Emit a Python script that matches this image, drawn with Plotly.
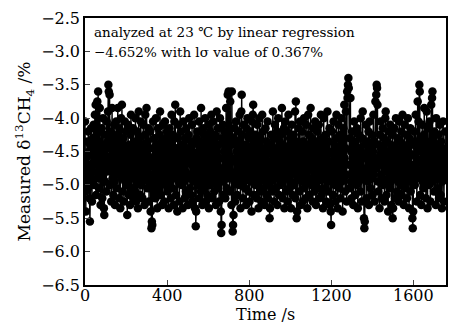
import plotly.graph_objects as go

time_s = list(range(0, 1760, 2))
delta13c = [
    -4.05, -5.10, -5.40, -4.60, -4.85, -4.35, -5.05, -4.70, -4.20, -4.95,
    -4.50, -5.20, -5.55, -4.40, -4.75, -4.15, -4.90, -5.25, -4.55, -4.30,
    -4.80, -4.10, -5.00, -4.45, -3.95, -4.65, -3.80, -5.15, -4.25, -4.70,
    -3.75, -4.90, -3.60, -4.35, -5.05, -4.60, -3.85, -4.20, -5.30, -4.55,
    -4.85, -4.15, -5.20, -4.50, -4.00, -4.75, -5.35, -5.45, -4.40, -4.95,
    -4.25, -4.60, -5.10, -4.05, -4.80, -4.35, -3.90, -3.50, -3.60, -4.70,
    -3.65, -5.00, -4.45, -4.20, -5.25, -4.55, -3.85, -4.90, -4.30, -5.15,
    -4.65, -4.10, -4.95, -5.30, -4.40, -4.75, -4.05, -5.05, -4.50, -4.25,
    -3.85, -4.85, -4.60, -5.20, -4.15, -4.70, -5.35, -4.35, -4.00, -4.90,
    -3.80, -4.55, -5.10, -4.30, -4.80, -5.25, -4.45, -4.05, -4.95, -4.65,
    -4.20, -5.00, -4.50, -5.45, -4.75, -4.10, -4.85, -5.15, -4.40, -4.60,
    -5.30, -4.25, -3.95, -4.70, -5.05, -4.45, -4.90, -4.15, -5.20, -4.55,
    -4.35, -4.80, -5.10, -4.00, -4.65, -5.25, -4.50, -4.20, -4.95, -5.35,
    -4.60, -3.90, -4.85, -4.30, -5.15, -4.70, -4.05, -5.00, -4.45, -4.75,
    -5.20, -4.40, -4.10, -4.90, -4.55, -5.30, -4.25, -3.95, -4.80, -4.65,
    -3.85, -4.50, -5.05, -4.35, -4.95, -4.15, -5.25, -4.60, -4.85, -4.20,
    -5.40, -4.70, -5.65, -5.55, -5.60, -4.45, -4.05, -4.90, -5.10, -4.30,
    -4.75, -4.55, -5.20, -4.00, -4.85, -4.40, -5.35, -4.65, -4.15, -4.95,
    -4.50, -5.05, -4.25, -3.90, -4.80, -5.15, -4.60, -4.35, -5.30, -4.70,
    -4.10, -4.90, -4.45, -5.25, -4.55, -4.05, -4.85, -5.00, -4.30, -4.75,
    -4.20, -5.10, -4.65, -4.40, -5.35, -4.95, -4.15, -4.80, -4.50, -5.20,
    -4.35, -3.95, -4.70, -5.05, -4.60, -4.25, -5.30, -4.85, -4.05, -4.55,
    -3.80, -4.90, -5.15, -4.45, -4.75, -5.40, -4.30, -4.10, -4.95, -4.65,
    -5.25, -4.50, -3.90, -4.85, -4.20, -5.00, -4.60, -4.40, -5.35, -4.70,
    -4.05, -4.95, -4.55, -5.20, -4.30, -4.80, -5.10, -4.15, -4.65, -4.45,
    -4.90, -5.30, -4.25, -4.60, -4.00, -4.85, -5.05, -4.50, -4.35, -5.15,
    -4.70, -4.10, -5.25, -4.40, -4.95, -4.55, -3.95, -4.80, -5.35, -4.65,
    -5.62, -5.40, -4.30, -4.75, -4.20, -5.00, -4.50, -4.90, -4.05, -5.20,
    -4.60, -4.35, -5.10, -3.85, -4.85, -4.45, -5.30, -4.70, -4.15, -4.95,
    -4.25, -5.05, -4.55, -4.00, -4.80, -5.25, -4.40, -4.65, -5.15, -4.30,
    -4.90, -4.10, -5.35, -4.50, -4.75, -4.20, -5.00, -4.60, -3.95, -4.85,
    -5.20, -4.45, -4.05, -4.95, -4.35, -5.10, -4.70, -4.25, -4.80, -5.30,
    -4.55, -3.90, -4.65, -5.05, -4.15, -4.90, -4.40, -5.25, -4.60, -4.00,
    -4.85, -5.40, -5.72, -5.60, -4.30, -4.75, -4.10, -4.95, -5.15, -4.50,
    -4.20, -4.80, -5.20, -4.45, -3.85, -4.70, -5.05, -4.35, -3.65, -4.90,
    -3.60, -4.55, -5.10, -4.25, -3.75, -4.85, -4.40, -5.30, -3.60, -4.65,
    -5.70, -5.60, -5.45, -4.30, -4.95, -4.15, -5.25, -4.60, -4.05, -4.80,
    -4.50, -5.15, -4.35, -4.90, -4.20, -5.00, -4.70, -3.95, -4.45, -5.35,
    -4.75, -3.90, -3.65, -4.85, -4.25, -5.20, -4.55, -4.10, -4.95, -4.60,
    -5.05, -4.40, -4.80, -5.30, -4.15, -4.65, -4.00, -4.90, -5.10, -4.30,
    -4.55, -5.25, -4.70, -4.20, -4.95, -4.45, -5.40, -4.05, -4.85, -3.95,
    -3.80, -4.60, -5.15, -4.35, -4.75, -5.00, -4.25, -4.90, -4.50, -5.20,
    -4.10, -4.80, -4.40, -5.35, -4.65, -4.00, -4.95, -5.10, -4.30, -4.70,
    -5.25, -4.55, -3.95, -4.85, -4.20, -5.05, -4.60, -4.45, -5.30, -4.75,
    -4.15, -4.90, -5.15, -4.35, -4.80, -4.05, -5.20, -4.65, -4.50, -5.00,
    -5.50, -5.35, -4.40, -4.95, -4.25, -4.70, -5.10, -4.55, -3.90, -4.85,
    -4.30, -5.25, -4.60, -4.10, -4.90, -5.05, -4.45, -4.75, -4.20, -5.30,
    -4.65, -4.00, -4.85, -5.15, -4.35, -4.55, -5.00, -4.25, -4.95, -4.50,
    -3.85, -4.70, -5.20, -4.40, -4.80, -4.15, -5.35, -4.60, -4.05, -4.90,
    -5.10, -4.45, -4.75, -4.20, -5.25, -4.55, -3.95, -4.85, -4.65, -5.05,
    -4.30, -4.95, -5.35, -4.50, -4.10, -4.80, -5.15, -4.40, -4.70, -4.25,
    -5.00, -4.60, -3.90, -5.20, -3.75, -4.85, -5.50, -5.40, -4.35, -4.55,
    -4.90, -4.15, -5.10, -4.65, -4.05, -4.75, -5.30, -4.45, -4.95, -4.20,
    -4.60, -5.25, -4.35, -4.80, -4.00, -5.05, -4.50, -4.70, -5.20, -4.10,
    -4.85, -4.40, -5.35, -4.55, -3.95, -4.90, -4.25, -5.15, -4.65, -4.45,
    -3.85, -4.75, -5.00, -4.30, -4.95, -5.25, -4.15, -4.60, -4.80, -5.10,
    -4.50, -4.05, -4.85, -5.30, -4.35, -4.70, -4.20, -4.95, -5.05, -4.55,
    -4.10, -5.20, -4.65, -4.40, -4.90, -3.95, -4.75, -5.15, -4.30, -4.85,
    -5.35, -4.50, -4.00, -4.80, -4.60, -5.05, -4.25, -4.70, -5.25, -4.45,
    -4.95, -3.90, -4.55, -5.10, -4.35, -4.85, -4.15, -5.30, -4.65, -5.40,
    -5.60, -4.75, -4.20, -4.95, -4.50, -5.15, -4.05, -4.80, -4.40, -5.00,
    -4.60, -5.25, -4.30, -3.95, -4.90, -4.70, -5.35, -4.45, -4.10, -4.85,
    -5.05, -4.55, -4.25, -5.20, -4.75, -4.00, -4.95, -4.35, -5.40, -4.65,
    -4.15, -4.90, -3.80, -4.60, -5.10, -4.45, -3.90, -4.85, -5.25, -3.60,
    -3.70, -3.50, -3.40, -3.55, -4.70, -5.05, -4.30, -3.70, -4.95, -4.50,
    -5.20, -4.20, -4.80, -4.40, -5.30, -4.65, -4.05, -4.90, -4.55, -5.15,
    -4.35, -4.75, -5.00, -4.15, -4.85, -5.35, -4.60, -4.25, -4.95, -4.45,
    -4.70, -5.10, -4.00, -4.80, -4.50, -5.25, -4.30, -3.90, -4.90, -4.60,
    -5.50, -5.65, -5.55, -4.40, -4.85, -4.10, -4.75, -5.20, -4.55, -4.35,
    -4.95, -4.20, -5.30, -4.65, -4.05, -4.80, -5.05, -4.45, -4.70, -4.25,
    -4.90, -5.15, -4.50, -3.95, -4.85, -4.35, -5.25, -4.60, -3.75, -4.75,
    -3.65, -3.50, -3.55, -3.80, -4.95, -5.10, -4.40, -4.70, -5.35, -4.25,
    -4.55, -4.05, -4.85, -5.20, -4.45, -4.90, -4.15, -5.00, -4.65, -4.30,
    -5.25, -4.75, -4.00, -3.90, -4.60, -5.15, -4.35, -4.80, -4.50, -5.40,
    -4.20, -4.95, -4.70, -5.05, -4.10, -4.85, -4.40, -5.30, -4.55, -4.25,
    -5.50, -5.35, -4.65, -4.90, -4.15, -4.75, -5.20, -4.45, -4.00, -4.85,
    -4.60, -5.10, -4.30, -4.95, -4.50, -5.25, -4.05, -4.70, -4.35, -5.00,
    -4.80, -4.20, -5.15, -4.55, -3.95, -4.90, -4.40, -5.30, -4.65, -4.10,
    -4.85, -5.05, -4.45, -4.75, -4.25, -5.20, -4.60, -4.00, -4.95, -4.50,
    -5.35, -4.30, -4.80, -4.15, -5.10, -4.70, -4.40, -4.90, -5.50, -5.65,
    -5.40, -4.55, -4.20, -4.85, -5.00, -4.35, -3.95, -4.75, -4.60, -5.25,
    -4.45, -3.75, -4.90, -4.05, -4.65, -3.50, -3.60, -5.15, -4.30, -4.80,
    -5.30, -4.50, -4.10, -4.95, -4.70, -5.05, -4.25, -3.85, -4.85, -4.40,
    -4.60, -5.20, -4.35, -3.90, -4.75, -5.35, -4.15, -4.90, -4.55, -5.00,
    -4.05, -4.80, -5.25, -4.45, -3.80, -4.70, -3.70, -3.60, -4.95, -4.30,
    -4.65, -5.10, -4.20, -4.85, -4.50, -5.30, -4.00, -4.75, -4.40, -5.05,
    -4.55, -4.90, -4.25, -5.20, -4.60, -4.10, -4.85, -5.15, -4.35, -4.70,
    -5.35, -4.95, -4.45, -4.05, -4.80, -5.25, -4.50, -4.65, -4.20, -4.90,
]

x_ticks = [0, 400, 800, 1200, 1600]
x_tick_labels = ["0", "400", "800", "1200", "1600"]
y_ticks = [-6.5, -6.0, -5.5, -5.0, -4.5, -4.0, -3.5, -3.0, -2.5]

serif = "DejaVu Serif"

fig = go.Figure()
fig.add_trace(go.Scatter(
    x=time_s[:len(delta13c)], y=delta13c, mode="lines+markers",
    line=dict(color="black", width=1.4),
    marker=dict(color="black", size=8.5),
    showlegend=False,
))

annotations = [
    dict(text=lab, xref="x", yref="paper", x=t, y=-0.0386,
         xanchor="center", yanchor="middle", showarrow=False, borderpad=0,
         font=dict(size=16, family=serif))
    for t, lab in zip(x_ticks, x_tick_labels)
]
annotations += [
    dict(text="Time /s", xref="paper", yref="paper",
         x=0.5, y=-0.1116, xanchor="center", yanchor="middle", showarrow=False,
         borderpad=0, font=dict(size=16, family=serif)),
    dict(text="analyzed at 23 ℃ by linear regression", xref="paper", yref="paper",
         x=0.02, y=0.946, xanchor="left", yanchor="middle", showarrow=False,
         font=dict(size=13.5, family=serif)),
    dict(text="−4.652% with lσ value of 0.367%", xref="paper", yref="paper",
         x=0.02, y=0.871, xanchor="left", yanchor="middle", showarrow=False,
         font=dict(size=13.5, family=serif)),
]

fig.update_layout(
    width=449, height=324,
    margin=dict(l=85, r=1, t=18, b=39),
    paper_bgcolor="white", plot_bgcolor="white",
    font=dict(family=serif, color="black", size=16),
    xaxis=dict(
        range=[0, 1760], tickvals=x_ticks, ticks="inside", ticklen=5,
        showline=True, linecolor="black", linewidth=1.5, mirror=True,
        showgrid=False, zeroline=False, showticklabels=False,
    ),
    yaxis=dict(
        range=[-6.5, -2.5], tickvals=y_ticks, tickformat=".1f",
        ticks="inside", ticklen=5,
        showline=True, linecolor="black", linewidth=1.5, mirror=True,
        showgrid=False, zeroline=False,
        title=dict(text="Measured δ<sup>13</sup>CH<sub>4</sub> /%", standoff=6, font=dict(size=17)),
        tickfont=dict(size=16),
    ),
    annotations=annotations,
)

fig.write_html("out.html")
